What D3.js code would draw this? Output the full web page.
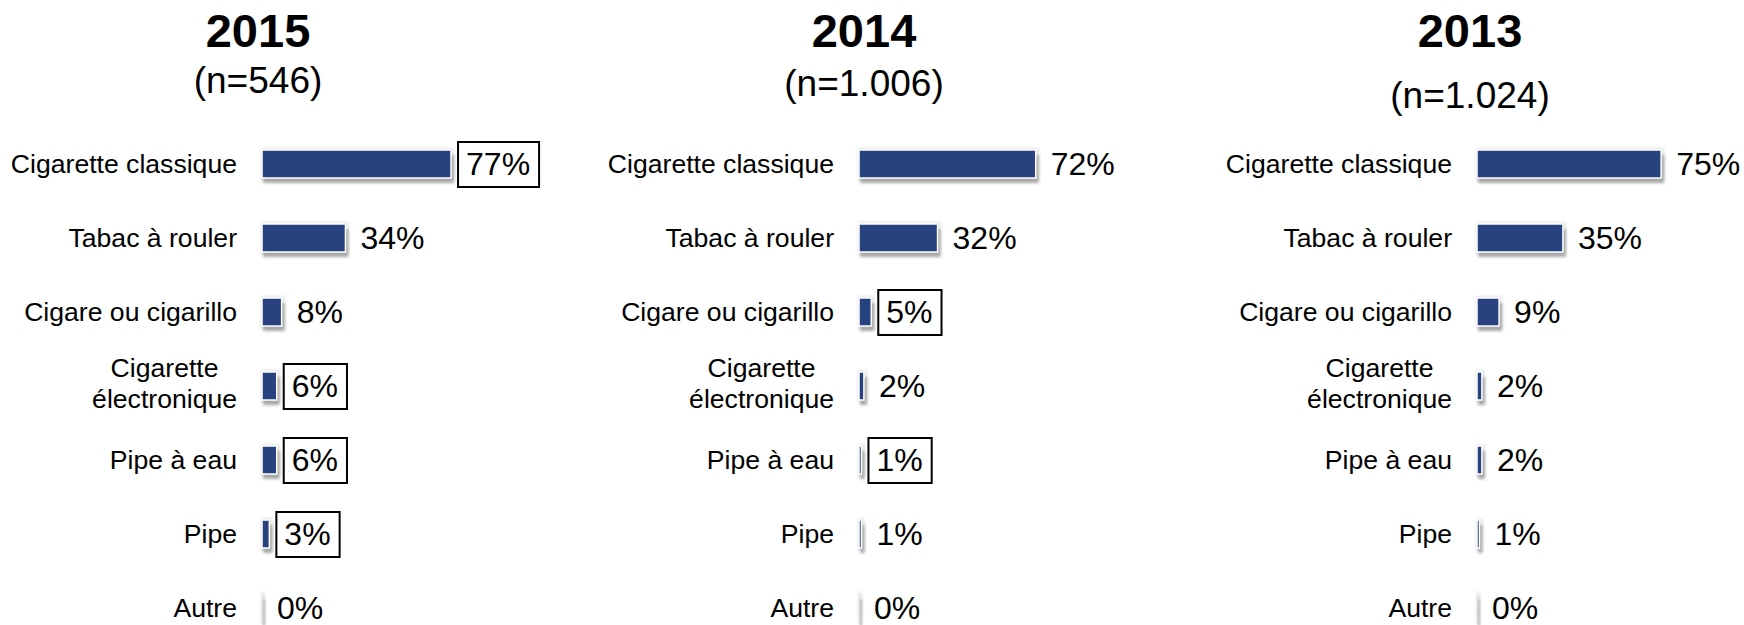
<!DOCTYPE html>
<html>
<head>
<meta charset="utf-8">
<script src="https://cdn.jsdelivr.net/npm/d3@7"></script>
<style>
  html, body { margin: 0; padding: 0; background: #fff; }
  svg { display: block; font-family: "Liberation Sans", Arial, sans-serif; }
</style>
</head>
<body>
<svg id="chart" width="1744" height="625"></svg>
<script>
// ---- data ----
const categories = ["Cigarette classique", "Tabac à rouler", "Cigare ou cigarillo",
  "Cigarette\nélectronique", "Pipe à eau", "Pipe", "Autre"];
const years = ["2015", "2014", "2013"];
const sampleSizes = ["(n=546)", "(n=1.006)", "(n=1.024)"];
const values2015 = [77, 34, 8, 6, 6, 3, 0];
const values2014 = [72, 32, 5, 2, 1, 1, 0];
const values2013 = [75, 35, 9, 2, 2, 1, 0];
const boxed2015 = [true, false, false, true, true, true, false];
const boxed2014 = [false, false, true, false, true, false, false];
const boxed2013 = [false, false, false, false, false, false, false];

const panels = [
  { year: years[0], n: sampleSizes[0], values: values2015, boxed: boxed2015 },
  { year: years[1], n: sampleSizes[1], values: values2014, boxed: boxed2014 },
  { year: years[2], n: sampleSizes[2], values: values2013, boxed: boxed2013 }
];

// ---- layout ----
const panelBarStart = [262, 859, 1477];
const titleCenter = [258, 864, 1470];
const subBaseline = [93, 96, 108];
const barH = 28;
const barColor = "#27427f";

const svg = d3.select("#chart");
const defs = svg.append("defs");
const blur = defs.append("filter").attr("id", "shadowBlur")
  .attr("x", "-50%").attr("y", "-50%").attr("width", "200%").attr("height", "200%");
blur.append("feGaussianBlur").attr("stdDeviation", 1.6);
const halo = defs.append("filter").attr("id", "haloBlur")
  .attr("x", "-50%").attr("y", "-50%").attr("width", "200%").attr("height", "200%");
halo.append("feGaussianBlur").attr("stdDeviation", 1.5);

const x = d3.scaleLinear().domain([0, 100]).range([0, 245.5]);
const y = d3.scalePoint().domain(categories).range([164, 608]);

panels.forEach((p, pi) => {
  const x0 = panelBarStart[pi];
  const g = svg.append("g");

  // titles
  g.append("text")
    .attr("x", titleCenter[pi]).attr("y", 47)
    .attr("text-anchor", "middle")
    .attr("font-weight", "bold").attr("font-size", 47)
    .attr("fill", "#000")
    .text(p.year);
  g.append("text")
    .attr("x", titleCenter[pi]).attr("y", subBaseline[pi])
    .attr("text-anchor", "middle")
    .attr("font-size", 37)
    .attr("fill", "#000")
    .text(p.n);

  const rows = categories.map((c, i) => ({ cat: c, v: p.values[i], boxed: p.boxed[i] }));

  // category labels
  const labelRight = x0 - 25;
  rows.forEach(r => {
    const lines = r.cat.split("\n");
    const cy = y(r.cat);
    if (lines.length === 1) {
      g.append("text")
        .attr("x", labelRight).attr("y", cy + 9)
        .attr("text-anchor", "end")
        .attr("font-size", 26.6).attr("fill", "#000")
        .text(lines[0]);
    } else {
      const t = g.append("text")
        .attr("font-size", 26.6).attr("fill", "#000")
        .attr("text-anchor", "middle");
      const spans = lines.map((ln, li) => t.append("tspan")
        .attr("y", cy - 9 + li * 31).text(ln));
      const widths = spans.map(s => s.node().getComputedTextLength());
      const maxW = d3.max(widths);
      spans.forEach(s => s.attr("x", labelRight - maxW / 2));
    }
  });

  // halo (light glow around bar)
  g.selectAll("rect.halo").data(rows).join("rect")
    .attr("class", "halo")
    .attr("x", x0 - 1).attr("y", d => y(d.cat) - barH / 2 - 2)
    .attr("width", d => x(d.v) + 4).attr("height", barH + 4)
    .attr("fill", "#e6e6e6").attr("filter", "url(#haloBlur)");

  // shadow
  g.selectAll("rect.shadow").data(rows).join("rect")
    .attr("class", "shadow")
    .attr("x", x0 + 1).attr("y", d => y(d.cat) - barH / 2 + 5)
    .attr("width", d => x(d.v) + 2).attr("height", barH)
    .attr("fill", "#a8a8a8").attr("filter", "url(#shadowBlur)");

  // bars
  g.selectAll("rect.bar").data(rows).join("rect")
    .attr("class", "bar")
    .attr("x", x0).attr("y", d => y(d.cat) - barH / 2)
    .attr("width", d => x(d.v)).attr("height", barH)
    .attr("fill", barColor)
    .attr("stroke", "#fff").attr("stroke-width", 1.5);

  // value labels
  rows.forEach(r => {
    const cy = y(r.cat);
    const tx = x0 + x(r.v) + 15;
    const t = g.append("text")
      .attr("x", tx).attr("y", cy + 11)
      .attr("font-size", 32).attr("fill", "#000")
      .text(r.v + "%");
    if (r.boxed) {
      const w = t.node().getComputedTextLength();
      g.append("rect")
        .attr("x", tx - 8).attr("y", cy - 22)
        .attr("width", w + 17).attr("height", 45)
        .attr("fill", "none").attr("stroke", "#000").attr("stroke-width", 2);
    }
  });
});
</script>
</body>
</html>
